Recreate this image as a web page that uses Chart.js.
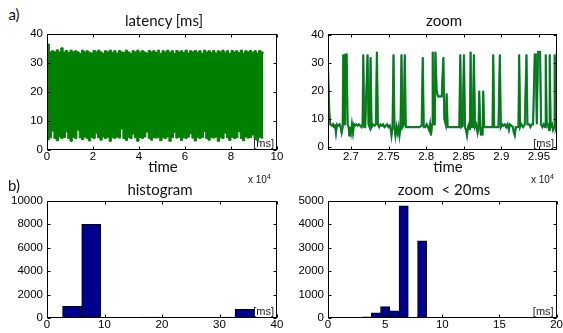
<!DOCTYPE html>
<html>
<head>
<meta charset="utf-8">
<script src="https://cdn.jsdelivr.net/npm/chart.js@4/dist/chart.umd.min.js"></script>
<style>
  body { margin: 0; background: #fff; width: 563px; height: 333px; overflow: hidden; position: relative; }
  canvas { position: absolute; }
  .t { position: absolute; transform: translate(-50%, -50%); white-space: nowrap; line-height: 1;
       color: #111; font-family: Lato, "Open Sans", sans-serif; font-size: 15px; }
  .e { position: absolute; white-space: nowrap; line-height: 1; color: #111;
       font-family: "Liberation Sans", Arial, sans-serif; font-size: 10px; }
  .e sup { font-size: 7px; vertical-align: 4px; }
</style>
</head>
<body>
<canvas id="latency" width="290" height="147" style="left:0;top:23px"></canvas>
<canvas id="zoom" width="283" height="147" style="left:280px;top:23px"></canvas>
<canvas id="hist" width="290" height="143" style="left:0;top:190px"></canvas>
<canvas id="zoomHist" width="283" height="143" style="left:280px;top:190px"></canvas>

<div class="t" style="left:14px;top:14px">a)</div>
<div class="t" style="left:14px;top:185px">b)</div>
<div class="t" style="left:164px;top:20px">latency [ms]</div>
<div class="t" style="left:444px;top:20px">zoom</div>
<div class="t" style="left:163px;top:166px">time</div>
<div class="t" style="left:448px;top:166px">time</div>
<div class="e" style="left:248px;top:173px">x 10<sup>4</sup></div>
<div class="e" style="left:531px;top:173px">x 10<sup>4</sup></div>
<div class="t" style="left:160px;top:189px">histogram</div>
<div class="t" style="left:444px;top:189px">zoom &nbsp;&lt; 20ms</div>

<script>
// --- a) latency trace: upper / lower envelope of the dense signal [ms] ---
const latencyTime = [0, 1000, 2000, 3000, 4000, 5000, 6000, 7000, 8000, 9000,
  10000, 11000, 12000, 13000, 14000, 15000, 16000, 17000, 18000, 19000,
  20000, 21000, 22000, 23000, 24000, 25000, 26000, 27000, 28000, 29000,
  30000, 31000, 32000, 33000, 34000, 35000, 36000, 37000, 38000, 39000,
  40000, 41000, 42000, 43000, 44000, 45000, 46000, 47000, 48000, 49000,
  50000, 51000, 52000, 53000, 54000, 55000, 56000, 57000, 58000, 59000,
  60000, 61000, 62000, 63000, 64000, 65000, 66000, 67000, 68000, 69000,
  70000, 71000, 72000, 73000, 74000, 75000, 76000, 77000, 78000, 79000,
  80000, 81000, 82000, 83000, 84000, 85000, 86000, 87000, 88000, 89000,
  90000, 91000, 92000, 93000, 94000];
const latencyUpper = [36.5, 33.8, 34.2, 33.8, 34.5, 33.8, 35.2, 33.8, 34.3, 33.6,
  34.4, 33.8, 34.2, 33.8, 33.3, 34.4, 33.8, 34.2, 33.7, 33.4,
  34.3, 33.8, 34.4, 33.8, 33.3, 34.2, 33.8, 34.4, 33.7, 34.2,
  33.4, 34.3, 33.8, 33.6, 34.4, 33.8, 33.3, 34.2, 33.8, 34.4,
  33.7, 34.2, 33.8, 33.4, 34.3, 33.8, 34.2, 33.6, 34.4, 33.3,
  34.2, 33.8, 34.4, 33.7, 34.2, 33.3, 34.3, 33.8, 34.2, 33.6,
  34.4, 33.4, 34.2, 33.8, 34.3, 33.7, 34.2, 33.3, 34.4, 33.8,
  34.2, 33.6, 34.3, 33.4, 34.2, 33.8, 34.4, 33.7, 34.2, 33.3,
  34.3, 33.8, 34.2, 33.6, 34.4, 33.4, 34.2, 33.8, 34.3, 33.7,
  34.2, 33.4, 34.3, 33.8, 33.2];
const latencyLower = [3.5, 4.2, 6.5, 4.0, 3.2, 4.5, 4.0, 4.3, 6.2, 4.0,
  3.0, 4.4, 4.0, 6.8, 4.2, 3.6, 4.5, 4.0, 3.1, 4.3,
  4.0, 5.8, 4.2, 3.4, 4.5, 4.0, 4.4, 3.0, 4.2, 4.0,
  4.5, 4.1, 7.2, 4.0, 3.3, 4.4, 4.0, 5.5, 4.2, 3.0,
  4.3, 4.0, 4.5, 6.2, 4.0, 3.4, 4.3, 4.1, 4.4, 3.2,
  4.2, 4.0, 4.5, 3.0, 4.3, 6.0, 4.1, 4.4, 3.3, 4.2,
  4.0, 4.5, 5.6, 4.1, 3.1, 4.4, 4.0, 4.3, 6.4, 4.0,
  3.4, 4.4, 4.1, 4.5, 3.0, 4.2, 4.0, 5.8, 4.3, 3.3,
  4.4, 4.0, 4.2, 6.3, 4.0, 3.2, 4.5, 4.1, 4.3, 5.2,
  4.0, 3.3, 4.4, 4.1, 4.3];
// the one blue sample that shows through the green block
const latencyBlueTime = [48600, 48600];
const latencyBlueValue = [4, 33];
const latencyTicksX = [0, 20000, 40000, 60000, 80000, 100000];
const latencyTicksY = [0, 10, 20, 30, 40];

// --- a) zoom window 2.67..2.97 x10^4 ms ---
const zoomTime = [26695, 26713, 26726, 26748, 26761, 26775, 26788, 26801, 26814, 26832,
  26850, 26863, 26876, 26890, 26898, 26907, 26920, 26929, 26943, 26956,
  26969, 26978, 26987, 27000, 27013, 27027, 27040, 27053, 27071, 27088,
  27106, 27124, 27141, 27155, 27164, 27177, 27190, 27221, 27234, 27248,
  27261, 27274, 27292, 27314, 27332, 27345, 27358, 27376, 27393, 27411,
  27429, 27446, 27464, 27482, 27499, 27517, 27530, 27539, 27553, 27566,
  27579, 27592, 27606, 27619, 27632, 27645, 27659, 27672, 27685, 27703,
  27716, 27729, 27747, 27787, 27831, 27875, 27911, 27941, 27955, 27968,
  27990, 28008, 28025, 28039, 28052, 28065, 28078, 28087, 28101, 28114,
  28123, 28140, 28158, 28176, 28193, 28207, 28229, 28242, 28260, 28273,
  28286, 28317, 28361, 28406, 28441, 28454, 28467, 28485, 28503, 28516,
  28529, 28543, 28556, 28569, 28582, 28591, 28604, 28622, 28635, 28649,
  28666, 28684, 28697, 28706, 28719, 28728, 28741, 28750, 28759, 28772,
  28795, 28825, 28856, 28883, 28892, 28905, 28936, 28962, 28980, 28993,
  29011, 29024, 29046, 29064, 29082, 29100, 29113, 29135, 29153, 29166,
  29179, 29192, 29210, 29228, 29237, 29250, 29267, 29290, 29312, 29334,
  29347, 29369, 29387, 29404, 29422, 29444, 29458, 29471, 29488, 29502,
  29515, 29528, 29546, 29564, 29581, 29590, 29603, 29617, 29634, 29643,
  29656, 29674, 29687, 29701, 29709, 29723, 29732, 29740];
const zoomValue = [28, 12, 8, 7.5, 8, 7, 8, 5, 8, 7.5,
  8, 7, 5, 7, 33, 8, 8, 33, 33, 8,
  7, 4, 7, 5, 8, 5, 8, 7.5, 8, 7.5,
  8, 7.5, 7, 8, 33, 7, 7, 33, 8, 7,
  32, 7, 8, 7.5, 8, 34, 8, 7, 8, 7.5,
  8, 7, 7.5, 8, 7, 7.5, 6, 4, 7, 33,
  7, 4, 7, 5, 7, 4, 7, 33, 7, 8,
  33, 7, 7, 7, 7, 7, 7, 7.5, 32, 7,
  7, 8, 7, 6, 8, 4, 8, 34, 8, 8,
  34, 20, 18, 18, 18, 18, 32, 10, 8, 19,
  7, 7, 7, 7, 7, 33, 7, 7.5, 33, 7,
  6, 4, 7, 8, 6, 34, 7, 7, 33, 7,
  8, 5, 7, 20, 7, 4, 7, 4, 20, 7,
  7, 7, 7, 7, 33, 7, 7, 7, 33, 7,
  8, 7.5, 8, 7, 8, 6, 8, 7.5, 7, 5,
  4, 7, 7, 7, 33, 7, 8, 7, 8, 33,
  8, 8, 7, 8, 8, 33, 33, 8, 34, 34,
  34, 8, 7, 8, 7, 33, 8, 8, 6, 33,
  7, 8, 6, 7, 33, 7, 8, 34];
const zoomTicksX = [27000, 27500, 28000, 28500, 29000, 29500];
const zoomTicksY = [0, 10, 20, 30, 40];

// --- b) histogram of all samples ---
const histCenters = [4.37, 7.7, 11.03, 14.37, 17.7, 21.03, 24.37, 27.7, 31.03, 34.37];
const histCounts = [1000, 8000, 20, 10, 80, 30, 30, 5, 70, 750];
const histTicksX = [0, 10, 20, 30, 40];
const histTicksY = [0, 2000, 4000, 6000, 8000, 10000];

// --- b) histogram zoom < 20 ms ---
const zoomHistCenters = [3.38, 4.19, 5.0, 5.81, 6.62, 7.43, 8.24, 9.05, 9.86, 10.67,
  11.48, 12.29, 13.1, 13.91, 14.72, 15.53, 16.34, 17.15, 17.96, 18.77];
const zoomHistCounts = [55, 225, 485, 305, 4790, 0, 3300, 25, 20, 15,
  10, 8, 15, 5, 10, 5, 8, 5, 10, 8];
const zoomHistTicksX = [0, 5, 10, 15, 20];
const zoomHistTicksY = [0, 1000, 2000, 3000, 4000, 5000];

const unitLabel = '[ms]';

const tickFont = { family: '"Liberation Sans", Arial, sans-serif', size: 11.5 };
const GREEN = '#008000';
const TEAL = '#3a7a98';
const NAVY = '#00008f';

// box frame with inward ticks on all sides + the [ms] note, matlab style
const frame = {
  id: 'frame',
  afterDatasetsDraw(chart) {
    const { ctx, chartArea: a, scales } = chart;
    const L = Math.round(a.left) + 0.5, R = Math.round(a.right) - 0.5;
    const T = Math.round(a.top) + 0.5, B = Math.round(a.bottom) - 0.5;
    ctx.save();
    ctx.strokeStyle = '#000';
    ctx.lineWidth = 1;
    ctx.strokeRect(L, T, R - L, B - T);
    ctx.beginPath();
    scales.x.ticks.forEach(t => {
      const px = Math.round(scales.x.getPixelForValue(t.value)) + 0.5;
      ctx.moveTo(px, B); ctx.lineTo(px, B - 3);
      ctx.moveTo(px, T); ctx.lineTo(px, T + 3);
    });
    scales.y.ticks.forEach(t => {
      const py = Math.round(scales.y.getPixelForValue(t.value)) + 0.5;
      ctx.moveTo(L, py); ctx.lineTo(L + 3, py);
      ctx.moveTo(R, py); ctx.lineTo(R - 3, py);
    });
    ctx.stroke();
    ctx.font = '11px "Liberation Sans", Arial, sans-serif';
    ctx.fillStyle = '#222';
    ctx.textAlign = 'right';
    ctx.textBaseline = 'bottom';
    ctx.fillText(unitLabel, a.right - 3, a.bottom - 1);
    ctx.restore();
  }
};

function axes(o) {
  return {
    x: {
      type: 'linear', min: o.xMin, max: o.xMax, offset: false,
      grid: { display: false, drawTicks: false }, border: { display: false },
      afterBuildTicks: s => { s.ticks = o.xTicks.map(v => ({ value: v })); },
      afterFit: s => { s.height = o.xHeight; },
      ticks: { padding: 0, color: '#000', font: tickFont, maxRotation: 0, autoSkip: false,
               callback: o.xFmt || (v => v) }
    },
    y: {
      type: 'linear', min: o.yMin, max: o.yMax,
      grid: { display: false, drawTicks: false }, border: { display: false },
      afterBuildTicks: s => { s.ticks = o.yTicks.map(v => ({ value: v })); },
      afterFit: s => { s.width = o.yWidth; },
      ticks: { padding: 4, color: '#000', font: tickFont, autoSkip: false, callback: v => v }
    }
  };
}

const baseOpts = {
  responsive: false,
  animation: false,
  plugins: { legend: { display: false }, tooltip: { enabled: false } }
};

const pts = (xs, ys) => xs.map((x, i) => ({ x: x, y: ys[i] }));

// a) full latency trace
new Chart(document.getElementById('latency'), {
  type: 'line',
  data: {
    datasets: [
      { data: pts(latencyTime, latencyUpper), borderColor: GREEN, backgroundColor: GREEN,
        borderWidth: 1, pointRadius: 0, stepped: true, fill: '+1' },
      { data: pts(latencyTime, latencyLower), borderColor: GREEN, borderWidth: 1,
        pointRadius: 0, stepped: true, fill: false },
      { data: pts(latencyBlueTime, latencyBlueValue), borderColor: TEAL, borderWidth: 1,
        pointRadius: 0, fill: false }
    ]
  },
  options: Object.assign({}, baseOpts, {
    layout: { padding: { top: 8, right: 13, left: 0, bottom: 0 } },
    scales: axes({ xMin: 0, xMax: 100000, xTicks: latencyTicksX, xFmt: v => v / 10000, xHeight: 20,
                   yMin: 0, yMax: 40, yTicks: latencyTicksY, yWidth: 47 })
  }),
  plugins: [frame]
});

// a) zoom
new Chart(document.getElementById('zoom'), {
  type: 'line',
  data: {
    datasets: [
      { data: pts(zoomTime, zoomValue), borderColor: GREEN, borderWidth: 1.5, pointRadius: 0,
        fill: false, order: 0 },
      { data: pts(zoomTime, zoomValue), borderColor: TEAL, borderWidth: 2.2, pointRadius: 0,
        fill: false, order: 1 }
    ]
  },
  options: Object.assign({}, baseOpts, {
    layout: { padding: { top: 8, right: 6, left: 0, bottom: 0 } },
    scales: axes({ xMin: 26695, xMax: 29740, xTicks: zoomTicksX, xFmt: v => v / 10000, xHeight: 20,
                   yMin: -1.2, yMax: 40.4, yTicks: zoomTicksY, yWidth: 48 })
  }),
  plugins: [frame]
});

function histChart(id, centers, counts, o) {
  return new Chart(document.getElementById(id), {
    type: 'bar',
    data: {
      datasets: [{
        data: pts(centers, counts), backgroundColor: NAVY, borderColor: '#000',
        borderWidth: 1, borderSkipped: false, barPercentage: 1, categoryPercentage: 1
      }]
    },
    options: Object.assign({}, baseOpts, {
      layout: { padding: o.padding },
      scales: axes(o)
    }),
    plugins: [frame]
  });
}

// b) histogram
histChart('hist', histCenters, histCounts, {
  padding: { top: 8, right: 13, left: 0, bottom: 0 },
  xMin: 0, xMax: 40, xTicks: histTicksX, xHeight: 15,
  yMin: 0, yMax: 10000, yTicks: histTicksY, yWidth: 47
});

// b) zoom < 20ms
histChart('zoomHist', zoomHistCenters, zoomHistCounts, {
  padding: { top: 8, right: 6, left: 0, bottom: 0 },
  xMin: 0, xMax: 20, xTicks: zoomHistTicksX, xHeight: 15,
  yMin: 0, yMax: 5000, yTicks: zoomHistTicksY, yWidth: 48
});
</script>
</body>
</html>
